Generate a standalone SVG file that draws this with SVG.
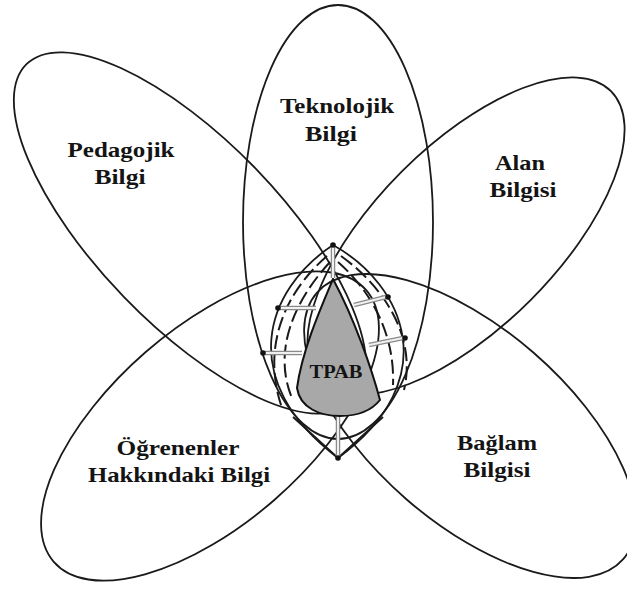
<svg xmlns="http://www.w3.org/2000/svg" width="627" height="593" viewBox="0 0 627 593">
<style>
.el{fill:none;stroke:#1a1a1a;stroke-width:1.8}
.ln{fill:none;stroke:#1a1a1a;stroke-width:1.8}
.ds{fill:none;stroke:#1a1a1a;stroke-width:2;stroke-dasharray:14 5}
.lb{font-family:"Liberation Serif","Times New Roman",serif;font-weight:bold;font-size:22px;fill:#141414;text-anchor:middle}
.ao{stroke:#8a8a8a;stroke-width:4.5;fill:none}
.ai{stroke:#f0f0f0;stroke-width:2;fill:none}
.dot{fill:#111}
</style>
<rect width="627" height="593" fill="#fff"/>
<g id="node-pedagojik">
<ellipse class="el" cx="190" cy="233" rx="235" ry="92" transform="rotate(46 190 233)"/>
<text class="lb" x="121" y="157" textLength="107" lengthAdjust="spacingAndGlyphs">Pedagojik</text>
<text class="lb" x="120" y="184" textLength="51" lengthAdjust="spacingAndGlyphs">Bilgi</text>
</g>
<g id="node-alan">
<ellipse class="el" cx="466" cy="236" rx="205" ry="91" transform="rotate(-45 466 236)"/>
<text class="lb" x="520" y="170" textLength="50" lengthAdjust="spacingAndGlyphs">Alan</text>
<text class="lb" x="523" y="197" textLength="67" lengthAdjust="spacingAndGlyphs">Bilgisi</text>
</g>
<g id="node-ogrenenler">
<ellipse class="el" cx="210" cy="426" rx="207" ry="98" transform="rotate(-41 210 426)"/>
<text class="lb" x="178" y="455" textLength="123" lengthAdjust="spacingAndGlyphs">Öğrenenler</text>
<text class="lb" x="179" y="482" textLength="182" lengthAdjust="spacingAndGlyphs">Hakkındaki Bilgi</text>
</g>
<g id="node-baglam">
<ellipse class="el" cx="470" cy="426" rx="203" ry="97" transform="rotate(41 470 426)"/>
<text class="lb" x="497" y="450" textLength="80" lengthAdjust="spacingAndGlyphs">Bağlam</text>
<text class="lb" x="497" y="477" textLength="67" lengthAdjust="spacingAndGlyphs">Bilgisi</text>
</g>
<g id="node-teknolojik">
<ellipse class="el" cx="338" cy="222" rx="95" ry="217"/>
<text class="lb" x="337" y="113" textLength="114" lengthAdjust="spacingAndGlyphs">Teknolojik</text>
<text class="lb" x="331" y="141" textLength="52" lengthAdjust="spacingAndGlyphs">Bilgi</text>
</g>
<g id="lens">
<path class="ln" d="M333,245 C265,290 235,380 338,458"/>
<path class="ln" d="M333,245 C405,285 445,380 338,458"/>
<path class="ds" d="M330,262 C295,300 272,350 292,398"/>
<path class="ds" d="M327,256 C282,295 262,350 282,408"/>
<path class="ds" d="M338,262 C372,292 395,335 393,385"/>
<path class="ds" d="M341,256 C388,290 416,340 404,390"/>
<path class="ln" d="M293,417 L338,458 L383,417"/>
</g>
<g id="node-tpab">
<path d="M333,279 C322,305 302,350 297,388 C300,408 320,416 340,416 C358,416 372,410 380,400 C372,370 355,320 333,279 Z" fill="#a8a8a8" stroke="#111" stroke-width="2"/>
<text class="lb" x="336" y="378" style="font-size:19px" textLength="53" lengthAdjust="spacingAndGlyphs">TPAB</text>
</g>
<g id="connectors">
<g>
<path class="ao" d="M333,278 L333,247"/><path class="ai" d="M333,278 L333,247"/>
<path class="ao" d="M338,417 L338,456"/><path class="ai" d="M338,417 L338,456"/>
<path class="ao" d="M316,308 L280,308"/><path class="ai" d="M316,308 L280,308"/>
<path class="ao" d="M302,353 L265,353"/><path class="ai" d="M302,353 L265,353"/>
<path class="ao" d="M354,305 L386,297"/><path class="ai" d="M354,305 L386,297"/>
<path class="ao" d="M369,345 L403,338"/><path class="ai" d="M369,345 L403,338"/>
</g>
<circle class="dot" cx="333" cy="245" r="2.8"/>
<circle class="dot" cx="338" cy="458" r="2.8"/>
<circle class="dot" cx="278" cy="308" r="2.8"/>
<circle class="dot" cx="263" cy="353" r="2.8"/>
<circle class="dot" cx="388" cy="297" r="2.8"/>
<circle class="dot" cx="405" cy="338" r="2.8"/>
</g>
</svg>
